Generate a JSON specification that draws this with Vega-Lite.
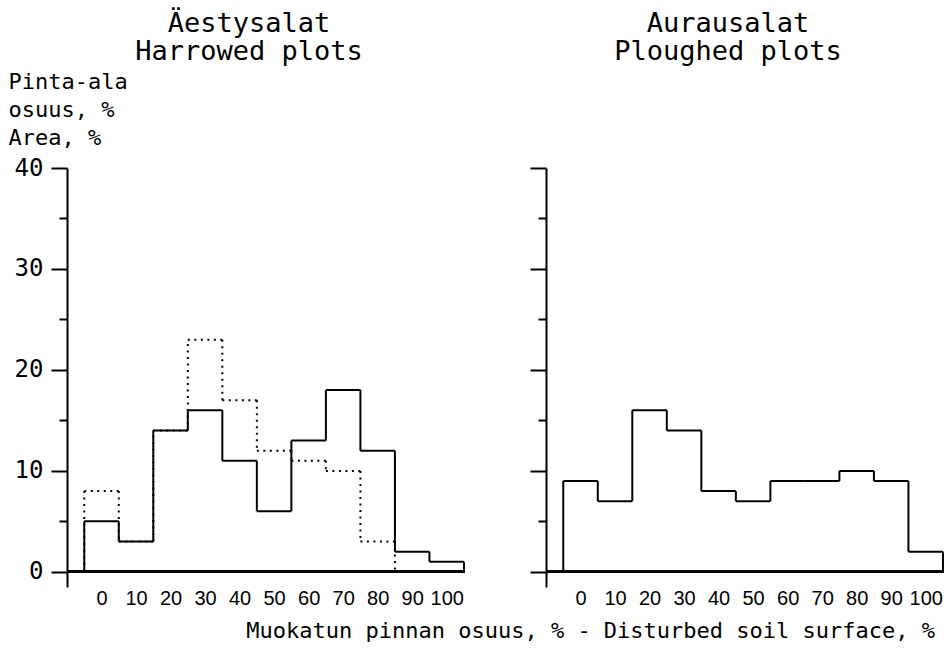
{
  "$schema": "https://vega.github.io/schema/vega-lite/v6.json",
  "padding": {"left": 8, "top": 10, "right": 2, "bottom": 2},
  "background": "white",
  "config": {
    "view": {"stroke": null},
    "font": "DejaVu Sans Mono",
    "axis": {"grid": false},
    "axisX": {
      "domain": false, "ticks": false, "labelOverlap": false,
      "labelFont": "Liberation Sans", "labelFontSize": 20,
      "labelColor": "black", "labelPadding": 1
    }
  },
  "title": {
    "text": "Muokatun pinnan osuus, % - Disturbed soil surface, %",
    "orient": "bottom",
    "anchor": "end",
    "font": "DejaVu Sans Mono",
    "fontSize": 22,
    "fontWeight": "normal",
    "color": "black",
    "offset": 13,
    "dx": -10
  },
  "data": {
    "values": [
      {"panel": "H", "series": "solid", "class": 0, "from": -5, "to": 5, "pct": 5},
      {"panel": "H", "series": "solid", "class": 10, "from": 5, "to": 15, "pct": 3},
      {"panel": "H", "series": "solid", "class": 20, "from": 15, "to": 25, "pct": 14},
      {"panel": "H", "series": "solid", "class": 30, "from": 25, "to": 35, "pct": 16},
      {"panel": "H", "series": "solid", "class": 40, "from": 35, "to": 45, "pct": 11},
      {"panel": "H", "series": "solid", "class": 50, "from": 45, "to": 55, "pct": 6},
      {"panel": "H", "series": "solid", "class": 60, "from": 55, "to": 65, "pct": 13},
      {"panel": "H", "series": "solid", "class": 70, "from": 65, "to": 75, "pct": 18},
      {"panel": "H", "series": "solid", "class": 80, "from": 75, "to": 85, "pct": 12},
      {"panel": "H", "series": "solid", "class": 90, "from": 85, "to": 95, "pct": 2},
      {"panel": "H", "series": "solid", "class": 100, "from": 95, "to": 105, "pct": 1},
      {"panel": "H", "series": "dotted", "class": 0, "from": -5, "to": 5, "pct": 8},
      {"panel": "H", "series": "dotted", "class": 10, "from": 5, "to": 15, "pct": 3},
      {"panel": "H", "series": "dotted", "class": 20, "from": 15, "to": 25, "pct": 14},
      {"panel": "H", "series": "dotted", "class": 30, "from": 25, "to": 35, "pct": 23},
      {"panel": "H", "series": "dotted", "class": 40, "from": 35, "to": 45, "pct": 17},
      {"panel": "H", "series": "dotted", "class": 50, "from": 45, "to": 55, "pct": 12},
      {"panel": "H", "series": "dotted", "class": 60, "from": 55, "to": 65, "pct": 11},
      {"panel": "H", "series": "dotted", "class": 70, "from": 65, "to": 75, "pct": 10},
      {"panel": "H", "series": "dotted", "class": 80, "from": 75, "to": 85, "pct": 3},
      {"panel": "H", "series": "dotted", "class": 90, "from": 85, "to": 95, "pct": 0},
      {"panel": "H", "series": "dotted", "class": 100, "from": 95, "to": 105, "pct": 0},
      {"panel": "P", "series": "solid", "class": 0, "from": -5, "to": 5, "pct": 9},
      {"panel": "P", "series": "solid", "class": 10, "from": 5, "to": 15, "pct": 7},
      {"panel": "P", "series": "solid", "class": 20, "from": 15, "to": 25, "pct": 16},
      {"panel": "P", "series": "solid", "class": 30, "from": 25, "to": 35, "pct": 14},
      {"panel": "P", "series": "solid", "class": 40, "from": 35, "to": 45, "pct": 8},
      {"panel": "P", "series": "solid", "class": 50, "from": 45, "to": 55, "pct": 7},
      {"panel": "P", "series": "solid", "class": 60, "from": 55, "to": 65, "pct": 9},
      {"panel": "P", "series": "solid", "class": 70, "from": 65, "to": 75, "pct": 9},
      {"panel": "P", "series": "solid", "class": 80, "from": 75, "to": 85, "pct": 10},
      {"panel": "P", "series": "solid", "class": 90, "from": 85, "to": 95, "pct": 9},
      {"panel": "P", "series": "solid", "class": 100, "from": 95, "to": 105, "pct": 2}
    ]
  },
  "bounds": "flush",
  "spacing": 81,
  "hconcat": [
    {
      "width": 398,
      "height": 419,
      "title": {
        "text": ["Äestysalat", "Harrowed plots"],
        "font": "DejaVu Sans Mono",
        "fontSize": 27,
        "fontWeight": "normal",
        "color": "black",
        "lineHeight": 28,
        "anchor": "middle",
        "dx": -17,
        "offset": 4
      },
      "transform": [
        {"filter": "datum.panel === 'H'"},
        {
          "window": [
            {"op": "lag", "field": "pct", "as": "prev"},
            {"op": "lead", "field": "pct", "as": "next"}
          ],
          "sort": [{"field": "from"}],
          "groupby": ["series"]
        }
      ],
      "layer": [
        {
          "mark": {"type": "rule", "color": "black", "strokeWidth": 2},
          "encoding": {
            "x": {
              "field": "from", "type": "quantitative",
              "scale": {"domain": [-10, 105.3], "nice": false, "zero": false},
              "axis": {"values": [0, 10, 20, 30, 40, 50, 60, 70, 80, 90, 100], "title": null}
            },
            "x2": {"field": "to"},
            "y": {
              "field": "pct", "type": "quantitative",
              "scale": {"domain": [-1.5, 40], "nice": false, "zero": false},
              "axis": {
                "values": [0, 5, 10, 15, 20, 25, 30, 35, 40],
                "tickSize": {"condition": {"test": "datum.value % 10 === 0", "value": 16}, "value": 8},
                "labelExpr": "datum.value % 10 === 0 ? datum.label : ''",
                "domainColor": "black", "tickColor": "black",
                "domainWidth": 2, "tickWidth": 2,
                "labelFont": "DejaVu Sans Mono", "labelFontSize": 24,
                "labelColor": "black", "labelPadding": 8,
                "title": ["Pinta-ala", "osuus, %", "Area, %"],
                "titleAngle": 0, "titleAlign": "left", "titleBaseline": "top",
                "titleX": -59, "titleY": -97,
                "titleFont": "DejaVu Sans Mono", "titleFontSize": 22,
                "titleFontWeight": "normal", "titleColor": "black",
                "titleLineHeight": 28
              }
            },
            "strokeDash": {
              "field": "series", "type": "nominal",
              "scale": {"domain": ["solid", "dotted"], "range": [[1, 0], [2, 4.5]]},
              "legend": null
            }
          }
        },
        {
          "transform": [{"filter": "datum.prev != null"}],
          "mark": {"type": "rule", "color": "black", "strokeWidth": 2},
          "encoding": {
            "x": {"field": "from", "type": "quantitative", "axis": {"values": [0, 10, 20, 30, 40, 50, 60, 70, 80, 90, 100], "title": null}},
            "y": {"field": "prev", "type": "quantitative"},
            "y2": {"field": "pct"},
            "strokeDash": {"field": "series", "type": "nominal", "legend": null}
          }
        },
        {
          "transform": [{"filter": "datum.prev == null"}],
          "mark": {"type": "rule", "color": "black", "strokeWidth": 2},
          "encoding": {
            "x": {"field": "from", "type": "quantitative", "axis": {"values": [0, 10, 20, 30, 40, 50, 60, 70, 80, 90, 100], "title": null}},
            "y": {"field": "pct", "type": "quantitative"},
            "y2": {"datum": 0},
            "strokeDash": {"field": "series", "type": "nominal", "legend": null}
          }
        },
        {
          "transform": [{"filter": "datum.next == null"}],
          "mark": {"type": "rule", "color": "black", "strokeWidth": 2},
          "encoding": {
            "x": {"field": "to", "type": "quantitative", "axis": {"values": [0, 10, 20, 30, 40, 50, 60, 70, 80, 90, 100], "title": null}},
            "y": {"field": "pct", "type": "quantitative"},
            "y2": {"datum": 0},
            "strokeDash": {"field": "series", "type": "nominal", "legend": null}
          }
        },
        {
          "mark": {"type": "rule", "color": "black", "strokeWidth": 2},
          "encoding": {"y": {"datum": 0, "type": "quantitative"}}
        }
      ]
    },
    {
      "width": 398,
      "height": 419,
      "title": {
        "text": ["Aurausalat", "Ploughed plots"],
        "font": "DejaVu Sans Mono",
        "fontSize": 27,
        "fontWeight": "normal",
        "color": "black",
        "lineHeight": 28,
        "anchor": "middle",
        "dx": -17,
        "offset": 101
      },
      "transform": [
        {"filter": "datum.panel === 'P'"},
        {
          "window": [
            {"op": "lag", "field": "pct", "as": "prev"},
            {"op": "lead", "field": "pct", "as": "next"}
          ],
          "sort": [{"field": "from"}],
          "groupby": ["series"]
        }
      ],
      "layer": [
        {
          "mark": {"type": "rule", "color": "black", "strokeWidth": 2},
          "encoding": {
            "x": {
              "field": "from", "type": "quantitative",
              "scale": {"domain": [-10, 105.3], "nice": false, "zero": false},
              "axis": {"values": [0, 10, 20, 30, 40, 50, 60, 70, 80, 90, 100], "title": null}
            },
            "x2": {"field": "to"},
            "y": {
              "field": "pct", "type": "quantitative",
              "scale": {"domain": [-1.5, 40], "nice": false, "zero": false},
              "axis": {
                "values": [0, 5, 10, 15, 20, 25, 30, 35, 40],
                "tickSize": {"condition": {"test": "datum.value % 10 === 0", "value": 16}, "value": 8},
                "labels": false,
                "domainColor": "black", "tickColor": "black",
                "domainWidth": 2, "tickWidth": 2,
                "title": null
              }
            }
          }
        },
        {
          "transform": [{"filter": "datum.prev != null"}],
          "mark": {"type": "rule", "color": "black", "strokeWidth": 2},
          "encoding": {
            "x": {"field": "from", "type": "quantitative", "axis": {"values": [0, 10, 20, 30, 40, 50, 60, 70, 80, 90, 100], "title": null}},
            "y": {"field": "prev", "type": "quantitative"},
            "y2": {"field": "pct"}
          }
        },
        {
          "transform": [{"filter": "datum.prev == null"}],
          "mark": {"type": "rule", "color": "black", "strokeWidth": 2},
          "encoding": {
            "x": {"field": "from", "type": "quantitative", "axis": {"values": [0, 10, 20, 30, 40, 50, 60, 70, 80, 90, 100], "title": null}},
            "y": {"field": "pct", "type": "quantitative"},
            "y2": {"datum": 0}
          }
        },
        {
          "transform": [{"filter": "datum.next == null"}],
          "mark": {"type": "rule", "color": "black", "strokeWidth": 2},
          "encoding": {
            "x": {"field": "to", "type": "quantitative", "axis": {"values": [0, 10, 20, 30, 40, 50, 60, 70, 80, 90, 100], "title": null}},
            "y": {"field": "pct", "type": "quantitative"},
            "y2": {"datum": 0}
          }
        },
        {
          "mark": {"type": "rule", "color": "black", "strokeWidth": 2},
          "encoding": {"y": {"datum": 0, "type": "quantitative"}}
        }
      ]
    }
  ]
}
